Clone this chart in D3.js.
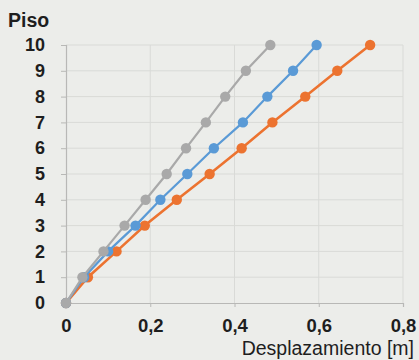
<!DOCTYPE html>
<html>
<head>
<meta charset="utf-8">
<script src="https://cdn.jsdelivr.net/npm/d3@7"></script>
<style>
  html, body { margin: 0; padding: 0; background: #ecedea; }
  svg { display: block; }
  text { font-family: "Liberation Sans", Arial, sans-serif; fill: #1e1e1e; }
</style>
</head>
<body>
<svg id="chart" width="419" height="360"></svg>
<script>
// Floors (piso) 0..10
const floors = [0, 1, 2, 3, 4, 5, 6, 7, 8, 9, 10];

// Lateral displacement per floor [m]
const dispOrange = [0, 0.052, 0.12, 0.187, 0.263, 0.341, 0.417, 0.49, 0.568, 0.644, 0.722];
const dispBlue   = [0, 0.043, 0.10, 0.165, 0.224, 0.288, 0.351, 0.42, 0.478, 0.539, 0.595];
const dispGray   = [0, 0.039, 0.089, 0.139, 0.189, 0.239, 0.285, 0.332, 0.378, 0.427, 0.485];

const xTicks = [0, 0.2, 0.4, 0.6, 0.8];
const xTickLabels = ["0", "0,2", "0,4", "0,6", "0,8"];
const yTicks = [0, 1, 2, 3, 4, 5, 6, 7, 8, 9, 10];

const seriesList = [
  { values: dispOrange, color: "#ec7330", width: 2.6 },
  { values: dispBlue,   color: "#5a9ad6", width: 2.2 },
  { values: dispGray,   color: "#a9a9a9", width: 2.2 }
];

const svg = d3.select("#chart");

const x = d3.scaleLinear().domain([0, 0.8]).range([66, 403]);
const y = d3.scaleLinear().domain([0, 10]).range([303, 45]);

// Horizontal gridlines
svg.append("g")
  .selectAll("line")
  .data(yTicks.filter(d => d > 0))
  .join("line")
  .attr("x1", x(0)).attr("x2", x(0.8))
  .attr("y1", d => y(d)).attr("y2", d => y(d))
  .attr("stroke", "#d9dad7").attr("stroke-width", 1);

// Vertical gridlines
svg.append("g")
  .selectAll("line")
  .data(xTicks.filter(d => d > 0))
  .join("line")
  .attr("x1", d => x(d)).attr("x2", d => x(d))
  .attr("y1", y(0)).attr("y2", y(10))
  .attr("stroke", "#d9dad7").attr("stroke-width", 1);

// Y axis
const yAxis = d3.axisLeft(y).tickValues(yTicks).tickSize(5).tickPadding(16).tickFormat(d3.format("d"));
const gy = svg.append("g").attr("transform", `translate(${x(0)},0)`).call(yAxis);
gy.select(".domain").attr("stroke", "#b8b8b6").attr("stroke-width", 1.2);
gy.selectAll(".tick line").attr("stroke", "#b8b8b6");
gy.selectAll(".tick text")
  .attr("font-size", 18).attr("font-weight", "bold")
  .attr("font-family", "Liberation Sans, Arial, sans-serif").attr("fill", "#1e1e1e");

// X axis
const xAxis = d3.axisBottom(x).tickValues(xTicks).tickSize(4).tickPadding(12)
  .tickFormat((d, i) => xTickLabels[i]);
const gx = svg.append("g").attr("transform", `translate(0,${y(0)})`).call(xAxis);
gx.select(".domain").attr("stroke", "#b8b8b6").attr("stroke-width", 1.2);
gx.selectAll(".tick line").attr("stroke", "#b8b8b6");
gx.selectAll(".tick text")
  .attr("font-size", 18.5).attr("font-weight", "bold")
  .attr("font-family", "Liberation Sans, Arial, sans-serif").attr("fill", "#1e1e1e");

// Axis titles
svg.append("text").attr("x", 8).attr("y", 27)
  .attr("font-size", 19.5).attr("font-weight", "bold").text("Piso");
svg.append("text").attr("x", 414).attr("y", 355)
  .attr("text-anchor", "end").attr("font-size", 19.5).text("Desplazamiento [m]");

// Series lines and markers
const line = d3.line().x(d => x(d[0])).y(d => y(d[1]));
seriesList.forEach(s => {
  const pts = s.values.map((v, i) => [v, floors[i]]);
  const g = svg.append("g");
  g.append("path").datum(pts)
    .attr("d", line).attr("fill", "none")
    .attr("stroke", s.color).attr("stroke-width", s.width);
  g.selectAll("circle").data(pts).join("circle")
    .attr("cx", d => x(d[0])).attr("cy", d => y(d[1]))
    .attr("r", 5.2).attr("fill", s.color);
});
</script>
</body>
</html>
